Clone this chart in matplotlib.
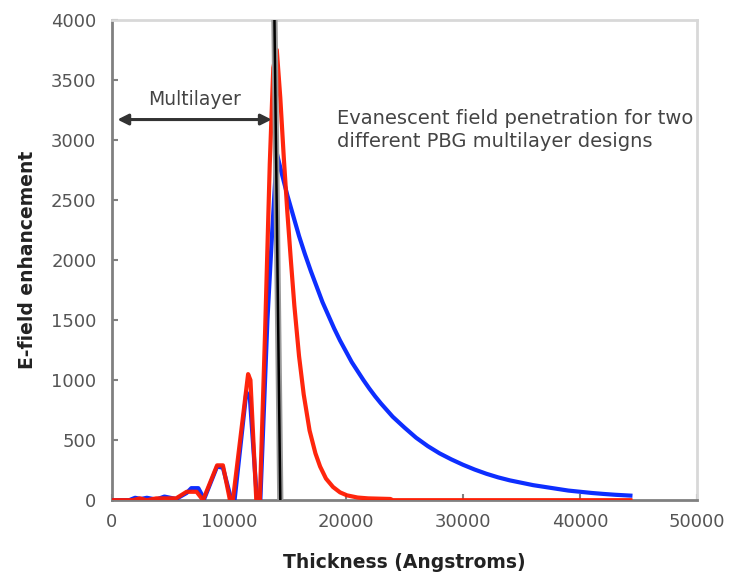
import matplotlib.pyplot as plt

# Field enhancement vs. thickness for two PBG multilayer designs
thick_a = [0, 1500, 2000, 2500, 3000, 3800, 4500, 5500, 6400, 6800, 7400, 7900,
           9000, 9500, 10200, 10500, 11500, 11800, 12400, 12700, 13300, 13700,
           14100, 14500, 15000, 15500, 16000, 16500, 17000, 17500, 18000, 18500,
           19000, 19500, 20000, 20500, 21000, 21500, 22000, 22500, 23000, 23500,
           24000, 25000, 26000, 27000, 28000, 29000, 30000, 31000, 32000, 33000,
           34000, 35000, 36000, 37000, 38000, 39000, 40000, 41000, 42000, 43000,
           44300]
field_a = [0, 0, 20, 10, 20, 5, 30, 10, 60, 100, 100, 10,
           280, 270, 10, 5, 900, 850, 10, 10, 1500, 2225,
           2890, 2730, 2540, 2370, 2200, 2050, 1910, 1780, 1650, 1540,
           1430, 1330, 1240, 1150, 1075, 1000, 930, 865, 805, 750,
           695, 605, 520, 450, 390, 340, 295, 255, 220, 190,
           165, 145, 125, 110, 95, 80, 70, 60, 52, 45,
           38]

thick_b = [0, 1800, 2400, 3000, 3800, 5500, 6400, 7250, 7800, 9000, 9500,
           10100, 10350, 11650, 11850, 12350, 12650, 13100, 13500, 13800,
           14100, 14400, 14700, 15000, 15300, 15600, 16000, 16400, 16900,
           17400, 17800, 18300, 18900, 19500, 20100, 21000, 21900, 23800,
           24000, 44300]
field_b = [0, 0, 15, 0, 15, 15, 70, 70, 0, 290, 290,
           0, 0, 1050, 1000, 0, 0, 1400, 2800, 3600,
           3750, 3350, 2850, 2400, 2000, 1620, 1200, 880, 580,
           390, 280, 180, 110, 65, 40, 22, 15, 10,
           0, 0]

X_TICKS = [0, 10000, 20000, 30000, 40000, 50000]
Y_TICKS = [0, 500, 1000, 1500, 2000, 2500, 3000, 3500, 4000]

plt.rcParams['font.family'] = ['DejaVu Sans']

fig = plt.figure(figsize=(7.3, 5.85), dpi=100)
ax = fig.add_axes([0.153, 0.145, 0.802, 0.821])

ax.plot(thick_a, field_a, color='#0022ff', lw=3, alpha=0.95, zorder=3)
ax.plot(thick_b, field_b, color='#ff1a00', lw=3, alpha=0.95, zorder=4)

# multilayer / cladding interface
ax.plot([13900, 14400], [4000, 0], color='#999999', lw=4.5, zorder=5)
ax.plot([13900, 14400], [4000, 0], color='black', lw=1.8, zorder=6)

ax.annotate('', xy=(250, 3170), xytext=(13900, 3170),
            arrowprops=dict(arrowstyle='<|-|>', color='#333333', lw=2.2,
                            mutation_scale=16), zorder=7)
ax.text(7100, 3340, 'Multilayer', fontsize=13.5, color='#444444',
        ha='center', va='center')
ax.text(19200, 3083,
        'Evanescent field penetration for two\ndifferent PBG multilayer designs',
        fontsize=14, color='#444444', ha='left', va='center', linespacing=1.25)

ax.set_xlim(0, 50000)
ax.set_ylim(0, 4000)
ax.set_xticks(X_TICKS)
ax.set_yticks(Y_TICKS)
ax.tick_params(direction='in', length=4, width=1.5, color='#808080',
               labelcolor='#555555', labelsize=13, pad=11)
ax.tick_params(axis='x', pad=9)

for side in ['left', 'bottom']:
    ax.spines[side].set_color('#808080')
    ax.spines[side].set_linewidth(2)
for side in ['top', 'right']:
    ax.spines[side].set_color('#d8d8d8')
    ax.spines[side].set_linewidth(2)

ax.set_xlabel('Thickness (Angstroms)', fontsize=13.5, fontweight='bold',
              color='#222222', labelpad=16)
ax.set_ylabel('E-field enhancement', fontsize=13.5, fontweight='bold',
              color='#222222', labelpad=10)

fig.savefig('out.png', dpi=100)
